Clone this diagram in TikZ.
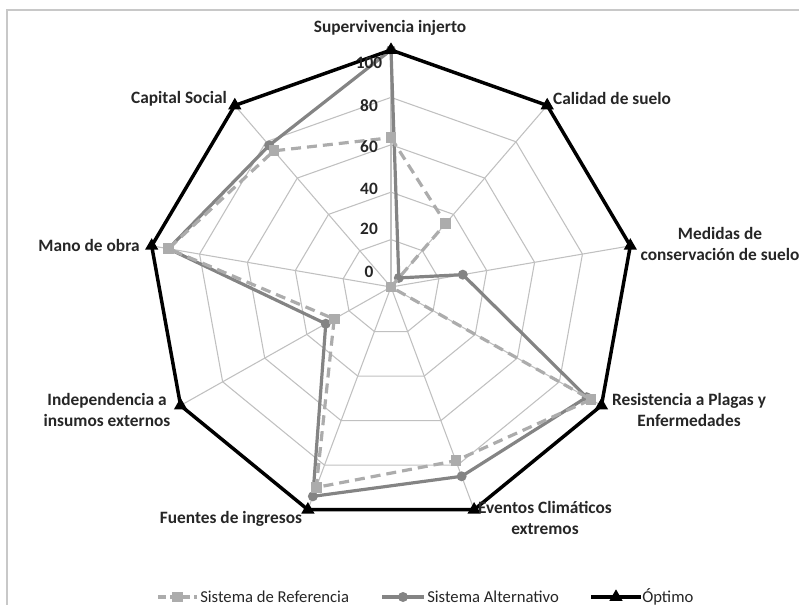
\documentclass[tikz,border=0pt]{standalone}
\usepackage{fontspec}
\setmainfont{Carlito}
\usetikzlibrary{shapes.geometric}

\definecolor{gridgray}{RGB}{192,192,192}
\definecolor{framegray}{RGB}{200,200,200}
\definecolor{refgray}{RGB}{172,172,172}
\definecolor{altgray}{RGB}{132,132,132}
\definecolor{labelgray}{RGB}{38,38,38}

\tikzset{
  gridline/.style={draw=gridgray, line width=0.8pt},
  refline/.style={draw=refgray, line width=2.4pt, dash pattern=on 7.5pt off 4.5pt},
  altline/.style={draw=altgray, line width=2.4pt, line join=round},
  optline/.style={draw=black, line width=2.6pt},
  refmark/.style={rectangle, fill=refgray, inner sep=0pt, minimum size=8pt},
  altmark/.style={circle, fill=altgray, inner sep=0pt, minimum size=7.5pt},
  optmark/.style={regular polygon, regular polygon sides=3, fill=black, inner sep=0pt, minimum size=11.5pt},
  axislabel/.style={font=\fontsize{13}{15.8}\selectfont\bfseries, text=labelgray, align=center, inner sep=0pt},
  ticklabel/.style={font=\fontsize{13}{15}\selectfont\bfseries, text=labelgray, inner sep=0pt},
  legendtext/.style={font=\fontsize{12.5}{15}\selectfont, text=labelgray, anchor=west, inner sep=0pt},
}

\begin{document}
\begin{tikzpicture}[x=0.75pt, y=-0.75pt]
\useasboundingbox (0,0) rectangle (799,605);

% Chart frame
\draw[framegray, line width=0.8pt] (7,605) -- (7,10) -- (799,10);

\begin{scope}[shift={(391,287)}, xscale=2.43, yscale=-2.37]
% Axis ends and data points
\coordinate (o) at (0,0);
\foreach \k in {0,...,8}
  \coordinate (opt\k) at ({90-40*\k}:100);
\foreach \v [count=\k from 0] in {63,35,0,95,78,90,27,93,75}
  \coordinate (ref\k) at ({90-40*\k}:\v);
\foreach \v [count=\k from 0] in {100,5,30,93,85,94,31,93,78}
  \coordinate (alt\k) at ({90-40*\k}:\v);

% Grid rings
\foreach \r in {20,40,60,80}
  \draw[gridline] (90:\r) \foreach \k in {1,...,8} { -- ({90-40*\k}:\r) } -- cycle;
% Spokes
\foreach \k in {0,...,8}
  \draw[gridline] (o) -- (opt\k);
\end{scope}

% Sistema Alternativo
\draw[altline] (alt0) -- (alt1) -- (alt2) -- (alt3) -- (alt4) -- (alt5) -- (alt6) -- (alt7) -- (alt8) -- cycle;
\foreach \k in {0,...,8}
  \node[altmark] (altm\k) at (alt\k) {};

% Sistema de Referencia
\draw[refline] (ref0) -- (ref1) -- (ref2) -- (ref3) -- (ref4) -- (ref5) -- (ref6) -- (ref7) -- (ref8) -- cycle;
\foreach \k in {0,...,8}
  \node[refmark] (refm\k) at (ref\k) {};

% Optimo
\draw[optline] (opt0) -- (opt1) -- (opt2) -- (opt3) -- (opt4) -- (opt5) -- (opt6) -- (opt7) -- (opt8) -- cycle;
\foreach \k in {0,...,8}
  \node[optmark] (optm\k) at (opt\k) {};

% Scale labels
\foreach \t/\y [count=\i from 0] in {0/272,20/229,40/189,60/147,80/106,100/63}
  \node[ticklabel] (tick\i) at (369,\y) {\t};

% Axis labels
\node[axislabel] (lab0) at (390,28) {Supervivencia injerto};
\node[axislabel] (lab1) at (612,98) {Calidad de suelo};
\node[axislabel] (lab2) at (720,244) {Medidas de\\conservación de suelo};
\node[axislabel] (lab3) at (689,410) {Resistencia a Plagas y\\Enfermedades};
\node[axislabel] (lab4) at (545,518) {Eventos Climáticos\\extremos};
\node[axislabel] (lab5) at (231,519) {Fuentes de ingresos};
\node[axislabel] (lab6) at (107,410) {Independencia a\\insumos externos};
\node[axislabel] (lab7) at (89,245) {Mano de obra};
\node[axislabel] (lab8) at (179,99) {Capital Social};

% Legend
\coordinate (refA) at (158,597);
\coordinate (refB) at (197,597);
\draw[refline, dash pattern=on 6pt off 3pt] (refA) -- (refB);
\node[refmark] (refkey) at (177.5,597) {};
\node[legendtext] (reftext) at (200,597) {Sistema de Referencia};

\coordinate (altA) at (382,597);
\coordinate (altB) at (424,597);
\draw[altline] (altA) -- (altB);
\node[altmark] (altkey) at (403,597) {};
\node[legendtext] (alttext) at (427,597) {Sistema Alternativo};

\coordinate (optA) at (591,597);
\coordinate (optB) at (641,597);
\draw[optline] (optA) -- (optB);
\node[optmark] (optkey) at (616,597) {};
\node[legendtext] (opttext) at (642,597) {Óptimo};
\end{tikzpicture}
\end{document}
